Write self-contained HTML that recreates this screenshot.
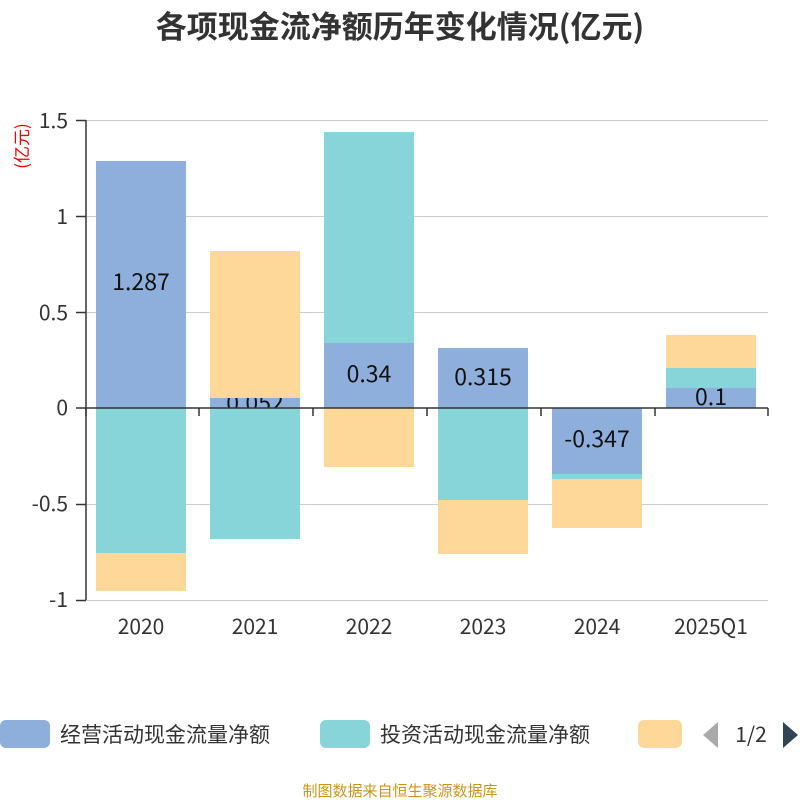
<!DOCTYPE html>
<html><head><meta charset="utf-8"><style>
body{margin:0;background:#fff;}
svg{display:block;font-family:"Noto Sans CJK SC","Liberation Sans",sans-serif;}
</style></head><body>
<svg width="800" height="800" viewBox="0 0 800 800">
<text x="400" y="38" text-anchor="middle" font-size="31" font-weight="bold" fill="#333">各项现金流净额历年变化情况(亿元)</text>
<text transform="translate(28,146) rotate(-90)" text-anchor="middle" font-size="17" fill="#e00">(亿元)</text>
<g stroke="#ccc" stroke-width="1">
<line x1="86" y1="120.5" x2="768" y2="120.5"/>
<line x1="86" y1="216.5" x2="768" y2="216.5"/>
<line x1="86" y1="312.5" x2="768" y2="312.5"/>
<line x1="86" y1="504.5" x2="768" y2="504.5"/>
<line x1="86" y1="600.5" x2="768" y2="600.5"/>
</g>
<g font-size="21" fill="#333" text-anchor="end">
<text x="68" y="128">1.5</text><text x="68" y="224">1</text><text x="68" y="320">0.5</text>
<text x="68" y="415">0</text><text x="68" y="511">-0.5</text><text x="68" y="607">-1</text>
</g>
<g>
<rect x="96" y="161" width="90" height="247" fill="#8eaedb"/>
<rect x="96" y="408" width="90" height="145" fill="#88d5d9"/>
<rect x="96" y="553" width="90" height="38" fill="#fed898"/>
<text x="141" y="290" font-size="23" text-anchor="middle" fill="#111">1.287</text>

<rect x="210" y="398" width="90" height="10" fill="#8eaedb"/>
<text x="255" y="411" font-size="23" text-anchor="middle" fill="#111">0.052</text>
<rect x="210" y="251" width="90" height="147" fill="#fed898"/>
<rect x="210" y="408" width="90" height="131" fill="#88d5d9"/>

<rect x="324" y="343" width="90" height="65" fill="#8eaedb"/>
<rect x="324" y="132" width="90" height="211" fill="#88d5d9"/>
<rect x="324" y="408" width="90" height="59" fill="#fed898"/>
<text x="369" y="382" font-size="23" text-anchor="middle" fill="#111">0.34</text>

<rect x="438" y="348" width="90" height="60" fill="#8eaedb"/>
<rect x="438" y="408" width="90" height="92" fill="#88d5d9"/>
<rect x="438" y="500" width="90" height="54" fill="#fed898"/>
<text x="483" y="385" font-size="23" text-anchor="middle" fill="#111">0.315</text>

<rect x="552" y="408" width="90" height="66" fill="#8eaedb"/>
<rect x="552" y="474" width="90" height="5" fill="#88d5d9"/>
<rect x="552" y="479" width="90" height="49" fill="#fed898"/>
<text x="597" y="447" font-size="23" text-anchor="middle" fill="#111">-0.347</text>

<rect x="666" y="388" width="90" height="20" fill="#8eaedb"/>
<rect x="666" y="368" width="90" height="20" fill="#88d5d9"/>
<rect x="666" y="335" width="90" height="33" fill="#fed898"/>
<text x="711" y="405" font-size="23" text-anchor="middle" fill="#111">0.1</text>
</g>
<g stroke="#333" stroke-width="1.5">
<line x1="86" y1="408" x2="768" y2="408"/>
<line x1="86" y1="120" x2="86" y2="600"/>
<line x1="76" y1="120.5" x2="86" y2="120.5"/><line x1="76" y1="216.5" x2="86" y2="216.5"/>
<line x1="76" y1="312.5" x2="86" y2="312.5"/><line x1="76" y1="408" x2="86" y2="408"/>
<line x1="76" y1="504.5" x2="86" y2="504.5"/><line x1="76" y1="600.5" x2="86" y2="600.5"/>
<line x1="86" y1="408" x2="86" y2="416"/><line x1="199" y1="408" x2="199" y2="416"/>
<line x1="313" y1="408" x2="313" y2="416"/><line x1="427" y1="408" x2="427" y2="416"/>
<line x1="541" y1="408" x2="541" y2="416"/><line x1="655" y1="408" x2="655" y2="416"/>
<line x1="768" y1="408" x2="768" y2="416"/>
</g>
<g font-size="21" fill="#333" text-anchor="middle">
<text x="141" y="634">2020</text><text x="255" y="634">2021</text><text x="369" y="634">2022</text>
<text x="483" y="634">2023</text><text x="597" y="634">2024</text><text x="711" y="634">2025Q1</text>
</g>
<rect x="0" y="720" width="50" height="28" rx="6" fill="#8eaedb"/>
<text x="60" y="742" font-size="21" fill="#333">经营活动现金流量净额</text>
<rect x="320" y="720" width="50" height="28" rx="6" fill="#88d5d9"/>
<text x="380" y="742" font-size="21" fill="#333">投资活动现金流量净额</text>
<rect x="638" y="720" width="44" height="28" rx="6" fill="#fed898"/>
<polygon points="718,722 718,748 703,735" fill="#aaa"/>
<text x="751" y="742" font-size="21" fill="#333" text-anchor="middle">1/2</text>
<polygon points="783,722 783,748 798,735" fill="#2f4554"/>
<text x="400" y="796" font-size="15" fill="#c8961e" text-anchor="middle">制图数据来自恒生聚源数据库</text>
</svg>
</body></html>
